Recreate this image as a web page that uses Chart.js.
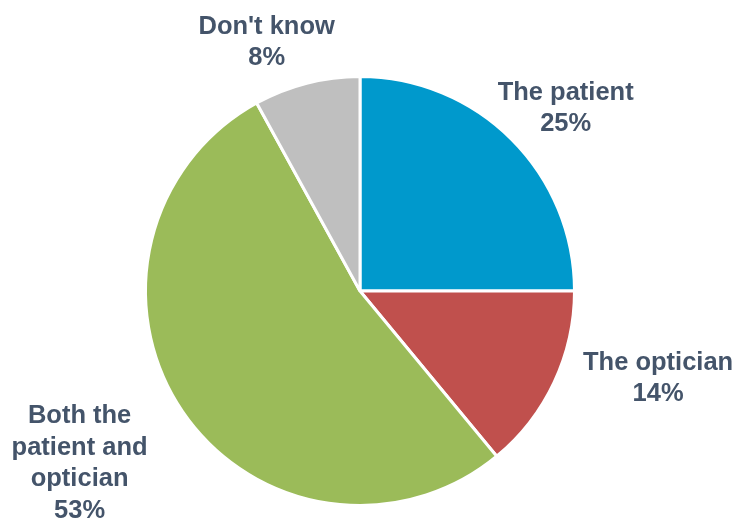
<!DOCTYPE html>
<html>
<head>
<meta charset="utf-8">
<script src="https://cdn.jsdelivr.net/npm/chart.js@4/dist/chart.umd.min.js"></script>
<style>
  html, body { margin: 0; padding: 0; background: #fff; }
  #wrap { width: 738px; height: 519px; }
</style>
</head>
<body>
<div id="wrap"><canvas id="myChart"></canvas></div>
<script>
var categories = ['The patient', 'The optician', 'Both the patient and optician', "Don't know"];
var labelLines = [['The patient'], ['The optician'], ['Both the', 'patient and', 'optician'], ["Don't know"]];
var shares = [25, 14, 53, 8];
var colors = ['#0099CC', '#C0504D', '#9BBB59', '#BFBFBF'];

// where each label sits relative to the slice's outer midpoint
var labelNudge = [[54, -31], [104, -4], [-103, 52], [-40, -41]];

var outsideLabels = {
  id: 'outsideLabels',
  afterDatasetsDraw: function(chart) {
    var ctx = chart.ctx;
    var meta = chart.getDatasetMeta(0);
    ctx.save();
    ctx.font = 'bold 25.5px "Liberation Sans", Arial, sans-serif';
    ctx.fillStyle = '#44546A';
    ctx.textAlign = 'center';
    ctx.textBaseline = 'middle';
    meta.data.forEach(function(arc, i) {
      var mid = (arc.startAngle + arc.endAngle) / 2;
      var x = arc.x + Math.cos(mid) * arc.outerRadius + labelNudge[i][0];
      var y = arc.y + Math.sin(mid) * arc.outerRadius + labelNudge[i][1];
      var lines = labelLines[i].concat([shares[i] + '%']);
      var lh = 31.5;
      var top = y - (lines.length - 1) * lh / 2;
      lines.forEach(function(t, j) {
        ctx.fillText(t, x, top + j * lh);
      });
    });
    ctx.restore();
  }
};

window.onload = function() {
  var ctx = document.getElementById('myChart').getContext('2d');
  new Chart(ctx, {
    type: 'pie',
    data: {
      labels: categories,
      datasets: [{
        data: shares,
        backgroundColor: colors,
        borderColor: '#ffffff',
        borderWidth: 3
      }]
    },
    options: {
      responsive: true,
      maintainAspectRatio: false,
      animation: false,
      layout: { padding: { top: 75, bottom: 12, left: 144, right: 162 } },
      plugins: {
        legend: { display: false },
        tooltip: { enabled: false }
      }
    },
    plugins: [outsideLabels]
  });
};
</script>
</body>
</html>
